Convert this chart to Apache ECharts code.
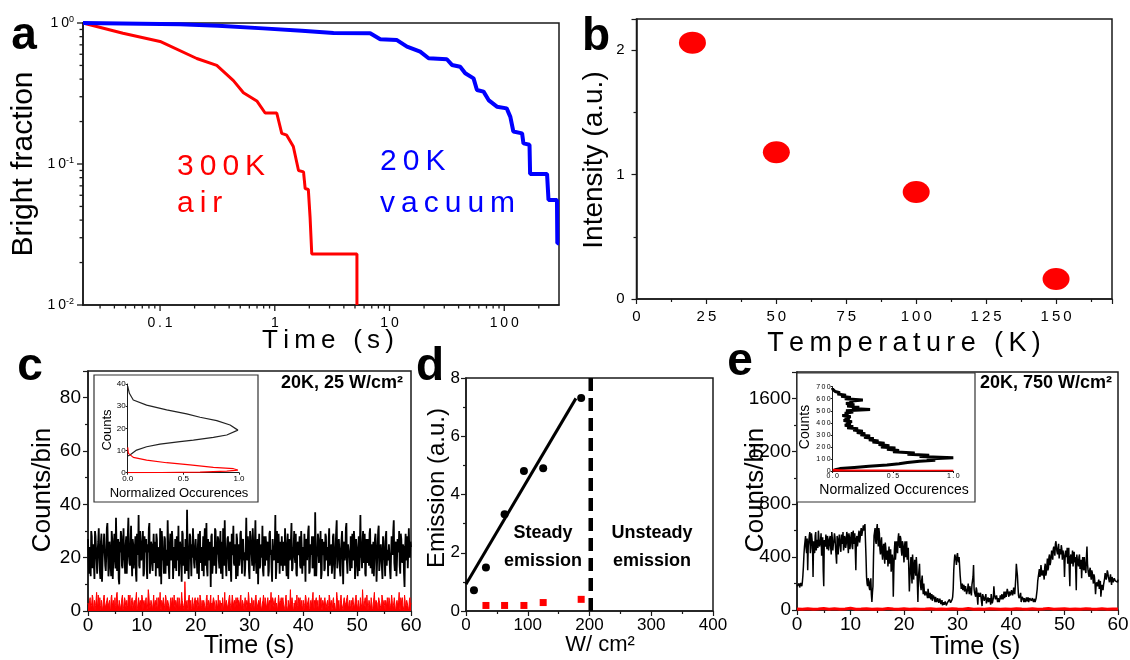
<!DOCTYPE html>
<html><head><meta charset="utf-8">
<script src="https://cdn.jsdelivr.net/npm/echarts@6/dist/echarts.min.js"></script>
<style>html,body{margin:0;padding:0;background:#fff}#main{width:1130px;height:660px}</style>
</head><body><div id="main"></div>
<script>
const FONT = '"Liberation Sans", Arial, sans-serif';
const AX = '#1a1a1a';
const RED = '#ff0000', BLUE = '#0000ff';

// ---------- panel a: bright fraction vs time (log-log) ----------
const redA = [[0.0213,1.0],[0.0475,0.845],[0.1,0.74],[0.209,0.56],[0.312,0.50],[0.436,0.39],[0.533,0.32],[0.697,0.28],[0.824,0.23],[1.04,0.23],[1.15,0.165],[1.27,0.16],[1.45,0.133],[1.61,0.09],[1.78,0.088],[1.84,0.067],[1.96,0.066],[2.03,0.042],[2.10,0.023],[5.2,0.023],[5.2,0.01]];
const blueA = [[0.0213,1.0],[0.149,0.98],[0.32,0.957],[0.79,0.916],[1.72,0.88],[3.25,0.85],[6.78,0.845],[8.3,0.766],[11.6,0.757],[14.2,0.679],[18.5,0.626],[21.9,0.562],[31.6,0.553],[35,0.504],[41.3,0.49],[45.7,0.44],[54,0.405],[57.8,0.335],[66,0.326],[73,0.284],[86.3,0.255],[105,0.248],[113,0.216],[120,0.17],[143,0.165],[147,0.14],[166,0.137],[168,0.085],[236,0.085],[243,0.0556],[288,0.0556],[290,0.0274],[300,0.0274]];
const xTicksA = [0.1, 1, 10, 100];
const yTicksA = [0.01, 0.1, 1];
const xMinA = 0.0213, xMaxA = 300, yMinA = 0.01, yMaxA = 1;

// ---------- panel b: intensity vs temperature ----------
const tempB = [20, 50, 100, 150];
const intensB = [2.06, 1.18, 0.86, 0.16];

// ---------- panel c: 20K, 25 W/cm2 trace (samples at t = i*dt and i*dt + dt/2) ----------
const cDt = 0.2;
const cBlack = [27,14,22,30,16,25,12,28,19,23,31,15,26,11,24,29,17,21,33,13,
26,18,30,12,24,20,35,15,27,10,22,28,16,31,19,25,14,29,21,17,
32,13,25,20,28,11,23,36,16,26,19,30,14,24,27,12,22,33,18,25,
15,29,21,13,27,24,17,31,10,26,20,28,14,23,34,16,25,19,30,12,
24,27,15,22,32,18,26,11,29,21,14,25,38,17,23,28,13,20,31,16,
27,19,24,12,30,22,15,28,25,17,33,13,21,26,9,29,18,24,31,14,
22,27,16,30,20,12,25,34,18,23,28,15,26,11,21,32,17,24,29,13,
25,20,30,14,27,22,16,35,19,24,12,28,21,31,15,26,18,23,10,29,
17,25,32,13,22,28,19,26,15,30,23,11,27,20,36,16,24,29,14,21,
28,15,23,31,18,25,12,27,21,33,16,24,20,29,13,26,22,17,30,14,
24,29,11,26,19,32,15,23,28,17,25,37,13,22,27,18,30,14,21,26,
16,28,22,13,31,20,25,17,29,12,24,34,19,27,15,23,30,10,26,21,
33,14,25,20,28,16,23,30,12,27,19,24,15,36,21,26,18,29,13,22,
27,17,31,22,14,26,20,29,11,24,32,18,25,16,28,21,13,30,23,19,
25,12,28,21,34,15,26,19,23,30,14,27,18,24,9,29,22,16,31,20,24];
const cBlackHalf = [19,24,13,28,21,17,30,23,14,26,20,12,29,18,25,22,15,31,24,16,
22,13,27,19,29,16,24,21,12,26,30,17,23,20,14,28,22,35,18,25,
20,27,16,23,14,29,21,17,30,19,24,13,28,22,16,25,31,14,26,19,
23,18,26,29,16,21,13,25,30,19,14,27,22,17,24,12,29,21,26,18,
16,23,28,19,13,26,21,30,17,24,27,15,22,12,29,20,25,31,18,23,
21,14,29,26,18,24,20,13,31,22,16,27,19,25,28,14,23,17,30,21,
28,19,23,14,26,31,17,21,13,27,20,24,16,29,22,18,25,12,27,20,
17,29,22,26,19,13,24,21,28,15,30,23,17,25,20,34,14,27,22,16,
24,20,15,28,17,25,22,13,29,21,16,27,19,24,12,30,18,23,26,17,
20,26,17,24,13,29,22,19,27,15,23,30,18,14,25,21,28,16,24,20,
17,22,27,19,30,14,25,21,16,28,13,23,20,29,18,24,12,27,22,15,
29,19,24,26,17,23,14,28,21,18,30,16,25,22,13,27,20,24,19,31,
18,25,21,15,23,29,19,26,17,22,13,28,24,20,16,30,23,14,27,18,
22,29,16,25,20,13,27,23,18,30,15,24,21,12,26,19,28,17,22,25,
15,21,26,30,18,24,13,27,22,17,29,20,25,14,23,19,28,16,21,26];
const cRed = [3,1,5,2,6,0,4,2,7,1,3,5,0,4,2,6,1,3,5,2,
4,0,6,2,3,5,1,7,2,4,0,3,6,1,5,2,4,1,3,6,
2,5,0,4,3,7,1,5,2,3,6,0,4,2,5,1,8,3,2,4,
0,6,3,1,5,2,4,7,0,3,5,2,6,1,4,3,0,5,2,4,
6,1,3,5,0,4,2,7,3,1,11,2,4,0,6,3,1,5,2,4,
3,0,5,2,6,1,4,3,3,0,5,2,4,1,6,3,2,5,0,4,
2,6,1,4,3,5,0,7,2,4,1,5,3,0,6,2,4,1,3,5,
4,1,6,2,3,0,5,2,4,7,1,3,5,0,4,2,6,1,3,2,
5,0,3,6,2,4,1,5,3,0,7,2,4,1,5,3,0,6,2,4,
1,5,3,0,6,2,4,1,8,3,5,0,2,4,6,1,3,5,2,0,
4,2,6,1,3,5,0,4,2,7,1,3,5,2,0,6,3,1,4,2,
5,1,3,0,6,2,4,1,5,3,0,7,2,4,1,6,3,0,5,2,
3,6,1,4,2,0,5,3,1,6,2,4,0,5,3,8,1,4,2,6,
0,4,2,5,1,3,7,2,4,0,5,3,1,6,2,4,0,3,5,1,
4,2,6,0,3,5,1,4,2,7,0,3,5,2,6,1,4,3,0,5,3];
const cRedHalf = [2,4,1,3,5,2,0,4,3,6,1,2,4,0,5,3,1,4,2,3,
1,5,3,4,0,2,6,3,1,4,2,5,0,3,4,1,2,6,3,0,
4,2,3,1,5,0,3,2,4,1,5,3,2,4,0,3,6,1,4,2,
3,1,4,2,0,5,3,1,4,2,3,0,5,2,3,1,4,2,5,1,
2,4,0,3,5,1,3,4,2,0,4,3,1,5,2,4,0,3,1,5,
4,2,3,0,5,2,1,4,3,2,6,1,3,4,0,2,5,3,1,4,
1,3,4,2,0,5,3,2,4,1,3,6,2,0,4,3,1,5,2,3,
3,5,1,4,2,3,0,4,2,5,3,1,4,2,0,5,3,1,4,2,
2,0,4,3,5,1,3,2,4,0,3,5,2,4,1,3,0,4,2,5,
4,3,1,5,2,0,4,3,2,5,1,3,4,0,2,5,3,1,4,2,
0,3,5,2,4,1,3,2,5,0,4,3,1,4,2,3,5,0,3,4,
3,1,4,2,5,3,0,4,2,3,1,5,2,0,4,3,1,4,2,3,
5,2,3,0,4,2,3,1,5,3,0,4,2,3,1,4,2,5,0,3,
2,4,1,3,0,5,2,4,3,1,4,2,0,5,3,2,4,1,3,5,
1,3,4,2,5,0,3,2,4,1,5,3,2,0,4,2,3,1,4,2];
const cInsBlackOcc = [0,0.015,0.05,0.17,0.35,0.53,0.65,0.80,0.92,0.99,0.98,0.89,0.77,0.59,0.47,0.29,0.17,0.08,0.02,0];
const cInsBlackCnt = [39,35.8,32.8,30.5,28.3,26.5,25,23.5,21.5,19.2,18.5,17,15.9,14.7,14,12.9,11.7,10.2,8,7.5];
const cInsRedOcc = [0,0.006,0.05,0.17,0.35,0.56,0.77,0.95,0.99,0.89,0.65,0.3,0];
const cInsRedCnt = [11.4,8.7,6.9,5.7,4.5,3.5,2.4,1.8,1.2,0.75,0.3,0.1,0];

// ---------- panel d: emission vs power density ----------
const powerBlack = [12.9, 32.3, 62.5, 93.8, 125, 186.5];
const emitBlack = [0.71, 1.49, 3.32, 4.81, 4.90, 7.31];
const powerRed = [32.3, 62.5, 93.8, 125, 186.5];
const emitRed = [0.19, 0.19, 0.19, 0.29, 0.40];
const fitX = [0, 178];
const fitY = [0.92, 7.3];
const thresholdX = 202;

// ---------- panel e: 20K, 750 W/cm2 trace ----------
const eDt = 0.2;
const eBlack = [180,165,200,175,190,210,330,480,560,430,
300,520,590,470,540,250,500,560,450,530,
600,480,520,410,550,180,500,570,460,530,
490,560,420,540,500,580,470,350,530,490,
560,440,520,590,480,540,500,570,430,550,
510,590,460,540,580,300,560,520,600,540,
620,570,640,590,520,250,180,220,150,240,
60,180,560,620,500,650,480,580,420,550,
380,500,350,470,400,330,480,380,290,420,
100,450,380,520,430,580,470,540,410,500,
360,520,450,380,470,140,330,280,420,230,
380,260,330,60,300,220,150,260,120,140,
100,130,90,150,110,80,120,70,100,60,
90,50,80,40,70,55,35,60,30,50,
40,70,50,90,60,80,160,370,400,340,
430,360,330,210,180,150,190,130,170,140,
200,120,160,110,180,340,130,100,150,40,
120,90,140,30,110,70,100,50,80,60,
90,40,110,70,180,100,70,120,90,60,
110,80,130,100,90,140,110,150,100,130,
120,160,130,140,180,350,260,110,80,130,
70,90,60,100,75,65,95,55,80,70,
90,60,85,50,75,220,280,250,340,260,
300,230,350,280,390,320,420,360,450,380,
480,410,520,440,470,390,460,490,380,430,
250,450,400,350,470,180,420,380,330,440,
400,150,380,330,420,360,240,400,300,350,
280,480,300,250,320,230,280,200,250,120,
210,180,230,170,100,190,150,200,280,230,
300,250,210,270,190,230,200,250,210,220,230];
const eBlackHalf = [190,185,170,205,180,260,420,520,470,540,
480,560,430,580,490,520,430,590,500,470,
540,500,580,470,300,530,480,520,560,450,
540,470,590,450,520,550,480,560,420,570,
480,570,500,450,560,470,590,500,580,460,
560,480,600,500,450,540,480,570,510,590,
560,610,600,650,400,200,240,170,210,120,
130,400,590,520,610,540,620,460,510,430,
470,420,510,380,450,400,350,460,330,380,
300,520,440,480,540,500,560,450,520,430,
480,400,520,440,300,250,400,200,350,300,
320,400,200,250,350,180,220,170,200,110,
140,110,160,90,130,100,70,110,85,100,
60,90,55,85,45,75,50,40,65,35,
55,45,80,55,70,100,300,420,380,410,
380,400,260,160,200,170,140,180,120,160,
150,180,130,190,250,160,120,170,90,130,
100,130,60,120,90,80,120,70,95,50,
70,120,50,90,120,80,110,60,100,80,
95,120,80,140,110,100,160,120,140,110,
150,110,170,120,250,300,180,90,110,60,
100,80,90,60,95,80,60,90,75,55,
80,70,60,90,160,250,310,270,300,280,
270,320,260,330,300,400,340,400,420,460,
450,500,470,420,500,440,420,460,450,400,
380,430,470,420,300,400,350,450,400,360,
300,420,360,400,310,380,340,320,400,300,
400,350,270,300,260,300,240,270,200,180,
200,210,160,220,150,170,190,240,250,260,
280,230,240,220,250,210,240,220,230,210];
const eRedDt = 1;
const eRed = [8,6,10,5,7,12,6,9,5,8,14,6,7,9,5,8,6,11,7,5,9,6,8,5,7,10,6,8,5,9,7,6,12,5,8,6,9,7,5,8,6,10,7,5,9,6,8,12,5,7,9,6,8,5,10,7,6,9,5,8,7];
const eInsBin = 10;
const eInsBlackOcc = [0.0,0.02,0.06,0.18,0.30,0.45,0.55,0.62,0.72,0.85,
0.78,1.0,0.72,0.80,0.62,0.68,0.50,0.55,0.45,0.52,
0.40,0.47,0.38,0.43,0.33,0.38,0.30,0.34,0.26,0.31,
0.23,0.27,0.20,0.25,0.17,0.21,0.12,0.17,0.10,0.15,
0.11,0.16,0.09,0.14,0.10,0.15,0.08,0.13,0.10,0.17,
0.11,0.31,0.16,0.22,0.12,0.18,0.11,0.17,0.14,0.25,
0.10,0.15,0.07,0.11,0.04,0.06,0.02,0.01,0.0,0.0];
const eInsRedOcc = [0,0.1,0.3,0.4,0.7,1.0,0.4,0.1,0];
const eInsRedCnt = [12,6,5,5,4,4,3,2,0];

// ---------- helpers ----------
const sp = s => String(s).split('').join('\u2009');
const pairs = (xs, ys) => xs.map((x, i) => [x, ys[i]]);
function trace(main, half, dt) {
  const out = [];
  main.forEach((v, i) => {
    out.push([+(i * dt).toFixed(3), v]);
    if (half && i < half.length) out.push([+(i * dt + dt / 2).toFixed(3), half[i]]);
  });
  return out;
}
// minor (2..9 per decade) tick values of the log axes in panel a
const minorXA = [], minorYA = [];
for (let d = -2; d <= 2; d++) for (let k = 2; k <= 9; k++) { const v = k * Math.pow(10, d); if (v > xMinA && v < xMaxA) minorXA.push(v); }
for (let d = -2; d <= -1; d++) for (let k = 2; k <= 9; k++) minorYA.push(k * Math.pow(10, d));

function axis(o) {
  const a = {
    type: o.type || 'value', gridIndex: o.g, min: o.min, max: o.max, z: o.z || 0,
    axisLine: { show: o.line !== false, onZero: false, lineStyle: { color: AX, width: o.lw || 1.5 } },
    axisTick: { show: o.ticks !== false, inside: false, length: o.tl || 5, lineStyle: { color: AX, width: o.lw ? 1 : 1.2 } },
    minorTick: { show: !!o.minor, splitNumber: 2, length: o.mtl || 3, lineStyle: { color: AX, width: o.lw ? 1 : 1.2 } },
    splitLine: { show: false }, minorSplitLine: { show: false },
    axisLabel: { show: o.label !== false, color: '#000', fontFamily: FONT, fontSize: o.fs || 19, margin: o.margin || 6,
      showMaxLabel: o.hideMax ? false : null, formatter: o.fmt, hideOverlap: false },
    animation: false
  };
  if (o.interval !== undefined) a.interval = o.interval;
  if (o.labelValues) a.axisLabel.customValues = o.labelValues;
  if (o.rich) a.axisLabel.rich = o.rich;
  if (o.type === 'log') a.logBase = 10;
  return a;
}

function txt(text, x, y, size, o) {
  o = o || {};
  return { type: 'text', x: x, y: y, rotation: o.rot || 0, z: 20, silent: true,
    style: { text: text, fill: o.color || '#000', fontSize: size, fontFamily: FONT, fontWeight: o.weight || 'normal',
      textAlign: o.align || 'center', align: o.align || 'center', textVerticalAlign: 'middle', verticalAlign: 'middle' } };
}

const gridBase = { show: true, borderColor: AX, borderWidth: 1.5, backgroundColor: 'transparent', containLabel: false, outerBoundsMode: 'none' };
const plain = { show: false, containLabel: false, outerBoundsMode: 'none' };
const grids = [
  Object.assign({ left: 83, top: 23, width: 476, height: 282 }, gridBase),
  Object.assign({ left: 636.5, top: 19, width: 475.5, height: 280 }, gridBase),
  Object.assign({ left: 88, top: 371, width: 323, height: 240 }, gridBase),
  Object.assign({ left: 127.7, top: 384, width: 111.3, height: 88.7 }, plain),
  Object.assign({ left: 466, top: 378, width: 247, height: 233 }, gridBase),
  Object.assign({ left: 797, top: 372, width: 321, height: 238 }, gridBase),
  Object.assign({ left: 832.7, top: 386.7, width: 120.6, height: 84.3 }, plain)
];

const richA = {
  b: { fontSize: 14, fontFamily: FONT, color: '#000', verticalAlign: 'bottom', lineHeight: 14 },
  s: { fontSize: 9, fontFamily: FONT, color: '#000', verticalAlign: 'top', padding: [0, 0, 6, 0] }
};

const xAxes = [
  axis({ g: 0, type: 'log', min: xMinA, max: xMaxA, ticks: false, labelValues: xTicksA, fs: 14, margin: 11, fmt: v => sp(String(+v.toPrecision(3))) }),
  axis({ g: 1, min: 0, max: 170, interval: 25, minor: true, fs: 15, margin: 10, hideMax: true, fmt: v => v > 150 ? '' : sp(String(v)) }),
  axis({ g: 2, min: 0, max: 60, interval: 10, minor: true, fs: 19, margin: 5 }),
  axis({ g: 3, min: 0, max: 1, interval: 0.5, fs: 8, margin: 2, tl: 2, lw: 1, z: 3, fmt: v => v.toFixed(1) }),
  axis({ g: 4, min: 0, max: 400, interval: 100, minor: true, fs: 17, margin: 6 }),
  axis({ g: 5, min: 0, max: 60, interval: 10, minor: true, fs: 19, margin: 5 }),
  axis({ g: 6, min: 0, max: 1, interval: 0.5, fs: 7, margin: 2, tl: 2, lw: 1, z: 3, fmt: v => sp(v.toFixed(1)) })
];
const yAxes = [
  axis({ g: 0, type: 'log', min: yMinA, max: yMaxA, ticks: false, labelValues: yTicksA, margin: 9, rich: richA,
    fmt: v => { const e = Math.round(Math.log10(v)); return '{b|1\u20090}{s|' + e + '}'; } }),
  axis({ g: 1, min: 0, max: 2.25, interval: 1, minor: true, fs: 15, margin: 12, hideMax: true, fmt: v => v > 2 ? '' : String(v) }),
  axis({ g: 2, min: 0, max: 90, interval: 20, minor: true, fs: 19, margin: 7, hideMax: true, fmt: v => v > 80 ? '' : String(v) }),
  axis({ g: 3, min: 0, max: 40, interval: 10, fs: 8, margin: 2, tl: 2, lw: 1, z: 3 }),
  axis({ g: 4, min: 0, max: 8, interval: 2, minor: true, fs: 17, margin: 6 }),
  axis({ g: 5, min: 0, max: 1800, interval: 400, minor: true, fs: 19, margin: 6, hideMax: true, fmt: v => v > 1600 ? '' : String(v) }),
  axis({ g: 6, min: 0, max: 700, interval: 100, fs: 7, margin: 2, tl: 2, lw: 1, z: 3, fmt: v => sp(String(v)) })
];

function line(data, xi, color, w, extra) {
  return Object.assign({ type: 'line', xAxisIndex: xi, yAxisIndex: xi, data: data, showSymbol: false, symbol: 'none',
    lineStyle: { color: color, width: w }, itemStyle: { color: color }, silent: true, animation: false, z: 2 }, extra || {});
}

const series = [
  line(redA, 0, RED, 3),
  line(blueA, 0, BLUE, 4),
  { type: 'scatter', xAxisIndex: 1, yAxisIndex: 1, data: pairs(tempB, intensB), symbol: 'circle', symbolSize: [27, 22],
    itemStyle: { color: RED, opacity: 1 }, silent: true, animation: false },
  line(trace(cBlack, cBlackHalf, cDt), 2, '#000', 1.8),
  line(trace(cRed, cRedHalf, cDt), 2, RED, 1, { areaStyle: { color: RED, opacity: 1 } }),
  line(pairs(cInsBlackOcc, cInsBlackCnt), 3, '#222', 1.2, { z: 5 }),
  line(pairs(cInsRedOcc, cInsRedCnt), 3, RED, 1.2, { z: 5 }),
  line(pairs(fitX, fitY), 4, '#000', 3),
  line([[thresholdX, 0], [thresholdX, 8]], 4, '#000', 4.5, { lineStyle: { color: '#000', width: 4.5, type: [13, 7] } }),
  { type: 'scatter', xAxisIndex: 4, yAxisIndex: 4, data: pairs(powerBlack, emitBlack), symbol: 'circle', symbolSize: 8,
    itemStyle: { color: '#000', opacity: 1 }, silent: true, animation: false },
  { type: 'scatter', xAxisIndex: 4, yAxisIndex: 4, data: pairs(powerRed, emitRed), symbol: 'rect', symbolSize: 7,
    itemStyle: { color: RED, opacity: 1 }, silent: true, animation: false },
  line(trace(eBlack, eBlackHalf, eDt), 5, '#000', 1.5),
  line(trace(eRed, null, eRedDt), 5, RED, 3),
  line(eInsBlackOcc.map((v, i) => [v, i * eInsBin]), 6, '#000', 3, { z: 5 }),
  line(pairs(eInsRedOcc, eInsRedCnt), 6, RED, 1.6, { z: 5 })
];

const graphics = [
  { type: 'rect', shape: { x: 94, y: 375, width: 164, height: 127 }, z: 1, silent: true, style: { fill: '#fff', stroke: '#333', lineWidth: 1.2 } },
  { type: 'rect', shape: { x: 797, y: 373, width: 178, height: 129 }, z: 1, silent: true, style: { fill: '#fff', stroke: '#333', lineWidth: 1.2 } },
  // panel letters
  txt('a', 24, 36, 46, { weight: 'bold' }),
  txt('b', 596, 37, 46, { weight: 'bold' }),
  txt('c', 30, 367, 46, { weight: 'bold' }),
  txt('d', 430, 367, 46, { weight: 'bold' }),
  txt('e', 740, 362, 46, { weight: 'bold' }),
  // panel a
  txt('Bright fraction', 24, 164, 30, { rot: Math.PI / 2 }),
  txt(sp('Time (s)'), 328, 341, 26),
  txt(sp('300K'), 177, 167, 30, { color: RED, align: 'left' }),
  txt(sp('air'), 177, 204, 30, { color: RED, align: 'left' }),
  txt(sp('20K'), 380, 162, 30, { color: BLUE, align: 'left' }),
  txt(sp('vacuum'), 380, 204, 30, { color: BLUE, align: 'left' }),
  // panel b
  txt('Intensity (a.u.)', 594, 160, 28, { rot: Math.PI / 2 }),
  txt(sp('Temperature (K)'), 904, 344, 27),
  // panel c
  txt('Counts/bin', 43, 490, 26, { rot: Math.PI / 2 }),
  txt('Time (s)', 249, 646, 25),
  txt('20K, 25 W/cm\u00b2', 403, 383, 18, { weight: 'bold', align: 'right' }),
  txt('Counts', 107, 430, 13, { rot: Math.PI / 2 }),
  txt('Normalized Occurences', 179, 493, 13),
  // panel d
  txt('Emission (a.u.)', 437, 488, 24, { rot: Math.PI / 2 }),
  txt('W/ cm\u00b2', 600, 645, 22),
  txt('Steady', 543, 533, 18, { weight: 'bold' }),
  txt('emission', 543, 561, 18, { weight: 'bold' }),
  txt('Unsteady', 652, 533, 18, { weight: 'bold' }),
  txt('emission', 652, 561, 18, { weight: 'bold' }),
  // panel e
  txt('Counts/bin', 756, 490, 26, { rot: Math.PI / 2 }),
  txt('Time (s)', 975, 647, 25),
  txt('20K, 750 W/cm\u00b2', 1112, 383, 18, { weight: 'bold', align: 'right' }),
  txt('Counts', 805, 427, 14, { rot: Math.PI / 2 }),
  txt('Normalized Occurences', 894, 490, 14)
];

const chart = echarts.init(document.getElementById('main'), null, { renderer: 'canvas' });
chart.setOption({
  backgroundColor: '#fff',
  animation: false,
  textStyle: { fontFamily: FONT },
  grid: grids,
  xAxis: xAxes,
  yAxis: yAxes,
  series: series
});

// log-axis tick marks of panel a, positioned through the log axes' own scale
const tickEls = [];
function addTicks(vals, dir, len) {
  vals.forEach(v => {
    const p = chart.convertToPixel({ gridIndex: 0 }, dir === 'x' ? [v, yMinA] : [xMinA, v]);
    if (!p || !isFinite(p[0]) || !isFinite(p[1])) return;
    const shape = dir === 'x' ? { x1: p[0], y1: p[1], x2: p[0], y2: p[1] + len } : { x1: p[0], y1: p[1], x2: p[0] - len, y2: p[1] };
    tickEls.push({ type: 'line', shape: shape, z: 5, silent: true, style: { stroke: AX, lineWidth: 1.3 } });
  });
}
addTicks(xTicksA, 'x', 6);
addTicks(minorXA, 'x', 3.5);
addTicks(yTicksA, 'y', 6);
addTicks(minorYA, 'y', 3.5);

chart.setOption({ graphic: { elements: graphics.concat(tickEls) } });
</script>
</body></html>
